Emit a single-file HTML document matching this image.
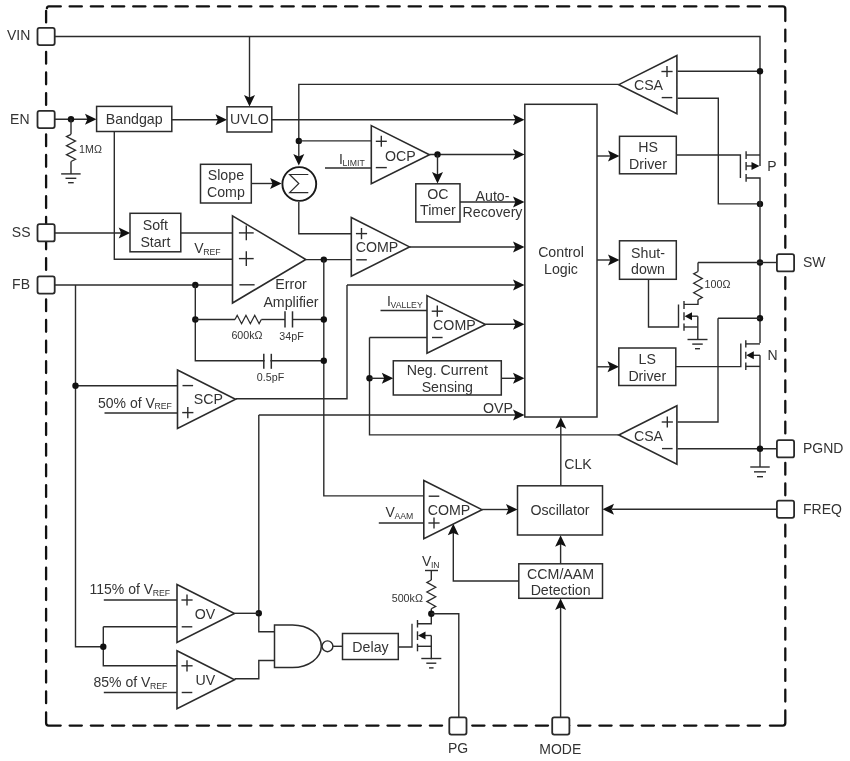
<!DOCTYPE html>
<html><head><meta charset="utf-8"><style>
html,body{margin:0;padding:0;background:#fff;width:850px;height:761px;overflow:hidden}
svg{display:block;will-change:transform}
text{font-family:"Liberation Sans", sans-serif}
</style></head><body>
<svg width="850" height="761" viewBox="0 0 850 761">
<rect width="850" height="761" fill="#fff"/>
<path d="M69.64 6.45H81.84M69.64 725.6H81.84M90.83 6.45H103.03M90.83 725.6H103.03M112.02 6.45H124.22M112.02 725.6H124.22M133.21 6.45H145.41M133.21 725.6H145.41M154.4 6.45H166.6M154.4 725.6H166.6M175.59 6.45H187.79M175.59 725.6H187.79M196.78 6.45H208.98M196.78 725.6H208.98M217.97 6.45H230.17M217.97 725.6H230.17M239.16 6.45H251.36M239.16 725.6H251.36M260.35 6.45H272.55M260.35 725.6H272.55M281.54 6.45H293.74M281.54 725.6H293.74M302.73 6.45H314.93M302.73 725.6H314.93M323.92 6.45H336.12M323.92 725.6H336.12M345.11 6.45H357.31M345.11 725.6H357.31M366.3 6.45H378.5M366.3 725.6H378.5M387.49 6.45H399.69M387.49 725.6H399.69M408.68 6.45H420.88M408.68 725.6H420.88M429.87 6.45H442.07M429.87 725.6H442.07M451.06 6.45H463.26M451.06 725.6H463.26M472.25 6.45H484.45M472.25 725.6H484.45M493.44 6.45H505.64M493.44 725.6H505.64M514.63 6.45H526.83M514.63 725.6H526.83M535.82 6.45H548.02M535.82 725.6H548.02M557.01 6.45H569.21M557.01 725.6H569.21M578.2 6.45H590.4M578.2 725.6H590.4M599.39 6.45H611.59M599.39 725.6H611.59M620.58 6.45H632.78M620.58 725.6H632.78M641.77 6.45H653.97M641.77 725.6H653.97M662.96 6.45H675.16M662.96 725.6H675.16M684.15 6.45H696.35M684.15 725.6H696.35M705.34 6.45H717.54M705.34 725.6H717.54M726.53 6.45H738.73M726.53 725.6H738.73M747.72 6.45H759.92M747.72 725.6H759.92M46.1 31.18V43.03M785.3 29.58V41.43M46.1 51.81V63.66M785.3 50.21V62.06M46.1 72.44V84.29M785.3 70.84V82.69M46.1 93.07V104.92M785.3 91.47V103.32M46.1 113.7V125.55M785.3 112.1V123.95M46.1 134.33V146.18M785.3 132.73V144.58M46.1 154.96V166.81M785.3 153.36V165.21M46.1 175.59V187.44M785.3 173.99V185.84M46.1 196.22V208.07M785.3 194.62V206.47M46.1 216.85V228.7M785.3 215.25V227.1M46.1 237.48V249.33M785.3 235.88V247.73M46.1 258.11V269.96M785.3 256.51V268.36M46.1 278.74V290.59M785.3 277.14V288.99M46.1 299.37V311.22M785.3 297.77V309.62M46.1 320V331.85M785.3 318.4V330.25M46.1 340.63V352.48M785.3 339.03V350.88M46.1 361.26V373.11M785.3 359.66V371.51M46.1 381.89V393.74M785.3 380.29V392.14M46.1 402.52V414.37M785.3 400.92V412.77M46.1 423.15V435M785.3 421.55V433.4M46.1 443.78V455.63M785.3 442.18V454.03M46.1 464.41V476.26M785.3 462.81V474.66M46.1 485.04V496.89M785.3 483.44V495.29M46.1 505.67V517.52M785.3 504.07V515.92M46.1 526.3V538.15M785.3 524.7V536.55M46.1 546.93V558.78M785.3 545.33V557.18M46.1 567.56V579.41M785.3 565.96V577.81M46.1 588.19V600.04M785.3 586.59V598.44M46.1 608.82V620.67M785.3 607.22V619.07M46.1 629.45V641.3M785.3 627.85V639.7M46.1 650.08V661.93M785.3 648.48V660.33M46.1 670.71V682.56M785.3 669.11V680.96M46.1 691.34V703.19M785.3 689.74V701.59M46.1 10.8V22.4M46.9 8.2Q47.2 6.45 48.8 6.45H60.8M769.2 6.45H782.8Q785.3 6.45 785.3 8.95V21M46.1 712.3V723.1Q46.1 725.6 48.6 725.6H60.7M769.9 725.6H782.8Q785.3 725.6 785.3 723.1V710.5" stroke="#111" stroke-width="2.3" fill="none" stroke-linecap="round"/>
<path d="M55 36.5 L760 36.5 L760 166" stroke="#2b2b2b" stroke-width="1.4" fill="none"/>
<path d="M249.5 36.5 L249.5 100" stroke="#2b2b2b" stroke-width="1.4" fill="none"/>
<polygon points="249.5,106.6 244,95.1 249.5,97.5 255,95.1" fill="#111"/>
<path d="M677.5 71.3 L760 71.3" stroke="#2b2b2b" stroke-width="1.4" fill="none"/>
<circle cx="760" cy="71.3" r="3.2" fill="#111"/>
<path d="M677.5 98.2 L718.3 98.2 L718.3 203.9 L760 203.9" stroke="#2b2b2b" stroke-width="1.4" fill="none"/>
<circle cx="760" cy="203.9" r="3.2" fill="#111"/>
<path d="M676.2 155 L740.4 155 L740.4 178" stroke="#2b2b2b" stroke-width="1.4" fill="none"/>
<path d="M746.1 151.3 L746.1 159" stroke="#2b2b2b" stroke-width="1.4" fill="none"/>
<path d="M746.1 162 L746.1 170.2" stroke="#2b2b2b" stroke-width="1.4" fill="none"/>
<path d="M746.1 174 L746.1 181.7" stroke="#2b2b2b" stroke-width="1.4" fill="none"/>
<path d="M746.1 155 L760 155" stroke="#2b2b2b" stroke-width="1.4" fill="none"/>
<path d="M746.1 166 L754 166" stroke="#2b2b2b" stroke-width="1.4" fill="none"/>
<polygon points="759.5,166 751.5,162 751.5,166 751.5,170" fill="#111"/>
<path d="M746.1 178 L760 178 L760 343" stroke="#2b2b2b" stroke-width="1.4" fill="none"/>
<text x="772" y="170.75" font-size="14" text-anchor="middle" fill="#333">P</text>
<circle cx="760" cy="262.5" r="3.2" fill="#111"/>
<path d="M760 262.5 L777 262.5" stroke="#2b2b2b" stroke-width="1.4" fill="none"/>
<path d="M698 262.5 L760 262.5" stroke="#2b2b2b" stroke-width="1.4" fill="none"/>
<path d="M698 262.5 L698 271.5" stroke="#2b2b2b" stroke-width="1.4" fill="none"/>
<path d="M698 271.5 L693.7 273.86 L702.3 278.57 L693.7 283.29 L702.3 288.01 L693.7 292.73 L702.3 297.44 L698 299.8" stroke="#2b2b2b" stroke-width="1.3" fill="none"/>
<path d="M698 299.8 L698 304.4 L684 304.4" stroke="#2b2b2b" stroke-width="1.4" fill="none"/>
<text x="717.5" y="288.1" font-size="10.7" text-anchor="middle" fill="#333">100Ω</text>
<path d="M648.5 279 L648.5 327 L678.5 327 L678.5 304.4" stroke="#2b2b2b" stroke-width="1.4" fill="none"/>
<path d="M684 301 L684 309" stroke="#2b2b2b" stroke-width="1.4" fill="none"/>
<path d="M684 312.3 L684 320.2" stroke="#2b2b2b" stroke-width="1.4" fill="none"/>
<path d="M684 323.4 L684 330.7" stroke="#2b2b2b" stroke-width="1.4" fill="none"/>
<path d="M697.8 316.2 L690 316.2" stroke="#2b2b2b" stroke-width="1.4" fill="none"/>
<polygon points="684.5,316.2 692,312.2 692,316.2 692,320.2" fill="#111"/>
<path d="M684 327 L697.8 327" stroke="#2b2b2b" stroke-width="1.4" fill="none"/>
<path d="M697.8 316.2 L697.8 339.5" stroke="#2b2b2b" stroke-width="1.4" fill="none"/>
<path d="M687.5 339.5 L707.5 339.5" stroke="#2b2b2b" stroke-width="1.4" fill="none"/>
<path d="M692.25 344.1 L702.75 344.1" stroke="#2b2b2b" stroke-width="1.4" fill="none"/>
<path d="M695 348.7 L700 348.7" stroke="#2b2b2b" stroke-width="1.4" fill="none"/>
<circle cx="760" cy="318.3" r="3.2" fill="#111"/>
<path d="M718 318.3 L760 318.3" stroke="#2b2b2b" stroke-width="1.4" fill="none"/>
<path d="M718 318.3 L718 422 L677.5 422" stroke="#2b2b2b" stroke-width="1.4" fill="none"/>
<path d="M675.8 366.6 L740.8 366.6 L740.8 343.4" stroke="#2b2b2b" stroke-width="1.4" fill="none"/>
<path d="M745.8 340.2 L745.8 347.6" stroke="#2b2b2b" stroke-width="1.4" fill="none"/>
<path d="M745.8 351.8 L745.8 358.7" stroke="#2b2b2b" stroke-width="1.4" fill="none"/>
<path d="M745.8 362.4 L745.8 369.9" stroke="#2b2b2b" stroke-width="1.4" fill="none"/>
<path d="M745.8 343.9 L760 343.9" stroke="#2b2b2b" stroke-width="1.4" fill="none"/>
<path d="M760 355.3 L752 355.3" stroke="#2b2b2b" stroke-width="1.4" fill="none"/>
<polygon points="746.3,355.3 753.8,351.3 753.8,355.3 753.8,359.3" fill="#111"/>
<path d="M745.8 366.4 L760 366.4" stroke="#2b2b2b" stroke-width="1.4" fill="none"/>
<path d="M760 355.3 L760 467" stroke="#2b2b2b" stroke-width="1.4" fill="none"/>
<text x="772.5" y="360.25" font-size="14" text-anchor="middle" fill="#333">N</text>
<path d="M677.5 448.8 L777 448.8" stroke="#2b2b2b" stroke-width="1.4" fill="none"/>
<circle cx="760" cy="448.8" r="3.2" fill="#111"/>
<path d="M750.25 467 L769.75 467" stroke="#2b2b2b" stroke-width="1.4" fill="none"/>
<path d="M754 471.85 L766 471.85" stroke="#2b2b2b" stroke-width="1.4" fill="none"/>
<path d="M757 476.7 L763 476.7" stroke="#2b2b2b" stroke-width="1.4" fill="none"/>
<path d="M777 509.3 L612 509.3" stroke="#2b2b2b" stroke-width="1.4" fill="none"/>
<polygon points="602.5,509.3 614,503.8 611.6,509.3 614,514.8" fill="#111"/>
<path d="M55 119.3 L90 119.3" stroke="#2b2b2b" stroke-width="1.4" fill="none"/>
<polygon points="96.5,119.3 85,113.8 87.4,119.3 85,124.8" fill="#111"/>
<circle cx="71" cy="119.2" r="3.2" fill="#111"/>
<path d="M71 119.2 L71 134.3" stroke="#2b2b2b" stroke-width="1.4" fill="none"/>
<path d="M71 134.3 L66.5 136.57 L75.5 141.1 L66.5 145.63 L75.5 150.17 L66.5 154.7 L75.5 159.23 L71 161.5" stroke="#2b2b2b" stroke-width="1.3" fill="none"/>
<path d="M71 161.5 L71 173.9" stroke="#2b2b2b" stroke-width="1.4" fill="none"/>
<path d="M61.15 173.9 L80.65 173.9" stroke="#2b2b2b" stroke-width="1.4" fill="none"/>
<path d="M65.5 178.3 L76.3 178.3" stroke="#2b2b2b" stroke-width="1.4" fill="none"/>
<path d="M68.1 182.7 L73.7 182.7" stroke="#2b2b2b" stroke-width="1.4" fill="none"/>
<text x="90.5" y="152.9" font-size="10.7" text-anchor="middle" fill="#333">1MΩ</text>
<rect x="96.6" y="106.4" width="75.2" height="25.1" fill="#fff" stroke="#2b2b2b" stroke-width="1.5"/>
<text x="134.2" y="124.05" font-size="14.2" text-anchor="middle" fill="#333">Bandgap</text>
<path d="M171.8 119.8 L220 119.8" stroke="#2b2b2b" stroke-width="1.4" fill="none"/>
<polygon points="227,119.8 215.5,114.3 217.9,119.8 215.5,125.3" fill="#111"/>
<path d="M114.3 131.5 L114.3 259.3 L232.5 259.3" stroke="#2b2b2b" stroke-width="1.4" fill="none"/>
<rect x="227" y="106.8" width="44.8" height="25.2" fill="#fff" stroke="#2b2b2b" stroke-width="1.5"/>
<text x="249.4" y="124.25" font-size="14.2" text-anchor="middle" fill="#333">UVLO</text>
<path d="M271.8 119.8 L518 119.8" stroke="#2b2b2b" stroke-width="1.4" fill="none"/>
<polygon points="524.5,119.8 513,114.3 515.4,119.8 513,125.3" fill="#111"/>
<path d="M618.8 84.4 L298.8 84.4 L298.8 158" stroke="#2b2b2b" stroke-width="1.4" fill="none"/>
<polygon points="298.8,165.5 293.3,154 298.8,156.4 304.3,154" fill="#111"/>
<circle cx="298.8" cy="140.9" r="3.2" fill="#111"/>
<path d="M298.8 140.9 L371.3 140.9" stroke="#2b2b2b" stroke-width="1.4" fill="none"/>
<path d="M325 168 L371.3 168" stroke="#2b2b2b" stroke-width="1.4" fill="none"/>
<text x="339" y="164.2" font-size="14" text-anchor="start" fill="#333">I<tspan font-size="8.7" dy="1.6" dx="-0.4">LIMIT</tspan></text>
<polygon points="371.3,125.6 429.5,154.7 371.3,183.8" fill="#fff" stroke="#2b2b2b" stroke-width="1.6" stroke-linejoin="miter"/>
<path d="M375.8 141.3 L386.8 141.3" stroke="#2b2b2b" stroke-width="1.4" fill="none"/>
<path d="M381.3 135.8 L381.3 146.8" stroke="#2b2b2b" stroke-width="1.4" fill="none"/>
<path d="M375.8 167.6 L386.8 167.6" stroke="#2b2b2b" stroke-width="1.4" fill="none"/>
<text x="400.3" y="160.75" font-size="14.2" text-anchor="middle" fill="#333">OCP</text>
<path d="M429.5 154.5 L518 154.5" stroke="#2b2b2b" stroke-width="1.4" fill="none"/>
<polygon points="524.5,154.5 513,149 515.4,154.5 513,160" fill="#111"/>
<circle cx="437.5" cy="154.5" r="3.2" fill="#111"/>
<path d="M437.5 154.5 L437.5 177" stroke="#2b2b2b" stroke-width="1.4" fill="none"/>
<polygon points="437.5,183.6 432,172.1 437.5,174.5 443,172.1" fill="#111"/>
<rect x="415.8" y="183.8" width="44.2" height="38.2" fill="#fff" stroke="#2b2b2b" stroke-width="1.5"/>
<text x="437.9" y="199.05" font-size="14.2" text-anchor="middle" fill="#333">OC</text>
<text x="437.9" y="215.25" font-size="14.2" text-anchor="middle" fill="#333">Timer</text>
<path d="M460 202 L518 202" stroke="#2b2b2b" stroke-width="1.4" fill="none"/>
<polygon points="524.5,202 513,196.5 515.4,202 513,207.5" fill="#111"/>
<text x="492.5" y="201.05" font-size="14.2" text-anchor="middle" fill="#333">Auto-</text>
<text x="492.5" y="217.25" font-size="14.2" text-anchor="middle" fill="#333">Recovery</text>
<rect x="200.5" y="164.3" width="50.8" height="38.7" fill="#fff" stroke="#2b2b2b" stroke-width="1.5"/>
<text x="225.9" y="180.25" font-size="14.2" text-anchor="middle" fill="#333">Slope</text>
<text x="225.9" y="196.75" font-size="14.2" text-anchor="middle" fill="#333">Comp</text>
<path d="M251.3 183.5 L275 183.5" stroke="#2b2b2b" stroke-width="1.4" fill="none"/>
<polygon points="281.6,183.5 270.1,178 272.5,183.5 270.1,189" fill="#111"/>
<circle cx="299.3" cy="184" r="16.9" fill="#fff" stroke="#1a1a1a" stroke-width="1.9"/>
<path d="M308.3 174.5 L289.6 174.5 L298.8 183.5 L289.6 192.7 L308.3 192.7" stroke="#2b2b2b" stroke-width="1.2" fill="none"/>
<path d="M298.8 201.9 L298.8 233.8 L351.3 233.8" stroke="#2b2b2b" stroke-width="1.4" fill="none"/>
<path d="M55 233 L124 233" stroke="#2b2b2b" stroke-width="1.4" fill="none"/>
<polygon points="130.2,233 118.7,227.5 121.1,233 118.7,238.5" fill="#111"/>
<rect x="130" y="213.3" width="50.8" height="38.5" fill="#fff" stroke="#2b2b2b" stroke-width="1.5"/>
<text x="155.4" y="230.45" font-size="14.2" text-anchor="middle" fill="#333">Soft</text>
<text x="155.4" y="246.75" font-size="14.2" text-anchor="middle" fill="#333">Start</text>
<path d="M180.8 233 L232.5 233" stroke="#2b2b2b" stroke-width="1.4" fill="none"/>
<text x="194.3" y="253" font-size="14" text-anchor="start" fill="#333">V<tspan font-size="8.7" dy="1.6" dx="-0.4">REF</tspan></text>
<polygon points="232.5,215.9 305.8,259.45 232.5,303" fill="#fff" stroke="#2b2b2b" stroke-width="1.6" stroke-linejoin="miter"/>
<path d="M238.9 232.9 L253.7 232.9" stroke="#2b2b2b" stroke-width="1.4" fill="none"/>
<path d="M246.3 225.5 L246.3 240.3" stroke="#2b2b2b" stroke-width="1.4" fill="none"/>
<path d="M238.9 258.6 L253.7 258.6" stroke="#2b2b2b" stroke-width="1.4" fill="none"/>
<path d="M246.3 251.2 L246.3 266" stroke="#2b2b2b" stroke-width="1.4" fill="none"/>
<path d="M239.4 284.8 L254.6 284.8" stroke="#2b2b2b" stroke-width="1.4" fill="none"/>
<text x="291" y="289.35" font-size="14.2" text-anchor="middle" fill="#333">Error</text>
<text x="291" y="306.55" font-size="14.2" text-anchor="middle" fill="#333">Amplifier</text>
<path d="M305.8 259.6 L351.3 259.6" stroke="#2b2b2b" stroke-width="1.4" fill="none"/>
<circle cx="323.8" cy="259.6" r="3.2" fill="#111"/>
<path d="M323.8 259.6 L323.8 495.9 L423.8 495.9" stroke="#2b2b2b" stroke-width="1.4" fill="none"/>
<path d="M55 285 L232.5 285" stroke="#2b2b2b" stroke-width="1.4" fill="none"/>
<circle cx="195.3" cy="285" r="3.2" fill="#111"/>
<path d="M195.3 285 L195.3 360.8 L323.8 360.8" stroke="#2b2b2b" stroke-width="1.4" fill="none"/>
<circle cx="323.8" cy="360.8" r="3.2" fill="#111"/>
<circle cx="195.3" cy="319.5" r="3.2" fill="#111"/>
<path d="M195.3 319.5 L235 319.5" stroke="#2b2b2b" stroke-width="1.4" fill="none"/>
<path d="M235 319.5 L237.19 315.3 L241.57 323.7 L245.96 315.3 L250.34 323.7 L254.73 315.3 L259.11 323.7 L261.3 319.5" stroke="#2b2b2b" stroke-width="1.3" fill="none"/>
<path d="M261.3 319.5 L285 319.5" stroke="#2b2b2b" stroke-width="1.4" fill="none"/>
<path d="M292.5 319.5 L323.8 319.5" stroke="#2b2b2b" stroke-width="1.4" fill="none"/>
<path d="M285 311.3 L285 327.5" stroke="#2b2b2b" stroke-width="1.5" fill="none"/>
<path d="M292.5 311.3 L292.5 327.5" stroke="#2b2b2b" stroke-width="1.5" fill="none"/>
<circle cx="323.8" cy="319.5" r="3.2" fill="#111"/>
<text x="247" y="339.4" font-size="10.7" text-anchor="middle" fill="#333">600kΩ</text>
<text x="291.5" y="339.7" font-size="10.7" text-anchor="middle" fill="#333">34pF</text>
<rect x="264.6" y="355" width="5.8" height="12" fill="#fff"/>
<path d="M263.8 353.8 L263.8 368.8" stroke="#2b2b2b" stroke-width="1.5" fill="none"/>
<path d="M271.3 353.8 L271.3 368.8" stroke="#2b2b2b" stroke-width="1.5" fill="none"/>
<text x="270.5" y="380.9" font-size="10.7" text-anchor="middle" fill="#333">0.5pF</text>
<path d="M75.5 285 L75.5 646.8 L103.3 646.8" stroke="#2b2b2b" stroke-width="1.4" fill="none"/>
<polygon points="351.3,217.5 409.5,246.9 351.3,276.3" fill="#fff" stroke="#2b2b2b" stroke-width="1.6" stroke-linejoin="miter"/>
<path d="M355.9 233.6 L367.1 233.6" stroke="#2b2b2b" stroke-width="1.4" fill="none"/>
<path d="M361.5 228 L361.5 239.2" stroke="#2b2b2b" stroke-width="1.4" fill="none"/>
<path d="M356.2 259.8 L366.8 259.8" stroke="#2b2b2b" stroke-width="1.4" fill="none"/>
<text x="377" y="252.25" font-size="14.2" text-anchor="middle" fill="#333">COMP</text>
<path d="M409.5 247 L518 247" stroke="#2b2b2b" stroke-width="1.4" fill="none"/>
<polygon points="524.5,247 513,241.5 515.4,247 513,252.5" fill="#111"/>
<path d="M347 285 L518 285" stroke="#2b2b2b" stroke-width="1.4" fill="none"/>
<polygon points="524.5,285 513,279.5 515.4,285 513,290.5" fill="#111"/>
<path d="M347 285 L347 398.8 L235.5 398.8" stroke="#2b2b2b" stroke-width="1.4" fill="none"/>
<polygon points="427,295.6 485.5,324.45 427,353.3" fill="#fff" stroke="#2b2b2b" stroke-width="1.6" stroke-linejoin="miter"/>
<path d="M431.7 311.2 L442.9 311.2" stroke="#2b2b2b" stroke-width="1.4" fill="none"/>
<path d="M437.3 305.6 L437.3 316.8" stroke="#2b2b2b" stroke-width="1.4" fill="none"/>
<path d="M432 337.5 L442.6 337.5" stroke="#2b2b2b" stroke-width="1.4" fill="none"/>
<text x="454.4" y="330.25" font-size="14.2" text-anchor="middle" fill="#333">COMP</text>
<path d="M380.5 310.5 L427 310.5" stroke="#2b2b2b" stroke-width="1.4" fill="none"/>
<text x="387" y="306.2" font-size="14" text-anchor="start" fill="#333">I<tspan font-size="8.7" dy="1.6" dx="-0.4">VALLEY</tspan></text>
<path d="M485.5 324.3 L518 324.3" stroke="#2b2b2b" stroke-width="1.4" fill="none"/>
<polygon points="524.5,324.3 513,318.8 515.4,324.3 513,329.8" fill="#111"/>
<path d="M369.5 337.5 L427 337.5" stroke="#2b2b2b" stroke-width="1.4" fill="none"/>
<path d="M369.5 337.5 L369.5 434.9 L618.8 434.9" stroke="#2b2b2b" stroke-width="1.4" fill="none"/>
<circle cx="369.5" cy="378.3" r="3.2" fill="#111"/>
<path d="M369.5 378.3 L387 378.3" stroke="#2b2b2b" stroke-width="1.4" fill="none"/>
<polygon points="393.3,378.3 381.8,372.8 384.2,378.3 381.8,383.8" fill="#111"/>
<rect x="393.3" y="360.8" width="108" height="34.2" fill="#fff" stroke="#2b2b2b" stroke-width="1.5"/>
<text x="447.3" y="374.75" font-size="14.2" text-anchor="middle" fill="#333">Neg. Current</text>
<text x="447.3" y="391.75" font-size="14.2" text-anchor="middle" fill="#333">Sensing</text>
<path d="M501.3 378.3 L518 378.3" stroke="#2b2b2b" stroke-width="1.4" fill="none"/>
<polygon points="524.5,378.3 513,372.8 515.4,378.3 513,383.8" fill="#111"/>
<path d="M258.8 415 L518 415" stroke="#2b2b2b" stroke-width="1.4" fill="none"/>
<polygon points="524.5,415 513,409.5 515.4,415 513,420.5" fill="#111"/>
<text x="498" y="413.05" font-size="14.2" text-anchor="middle" fill="#333">OVP</text>
<path d="M258.8 415 L258.8 631.8 L274.5 631.8" stroke="#2b2b2b" stroke-width="1.4" fill="none"/>
<circle cx="258.8" cy="613.3" r="3.2" fill="#111"/>
<rect x="524.8" y="104.3" width="72.2" height="312.7" fill="#fff" stroke="#2b2b2b" stroke-width="1.5"/>
<text x="561" y="256.75" font-size="14.2" text-anchor="middle" fill="#333">Control</text>
<text x="561" y="273.55" font-size="14.2" text-anchor="middle" fill="#333">Logic</text>
<path d="M597 156 L613 156" stroke="#2b2b2b" stroke-width="1.4" fill="none"/>
<polygon points="619.5,156 608,150.5 610.4,156 608,161.5" fill="#111"/>
<path d="M597 260 L613 260" stroke="#2b2b2b" stroke-width="1.4" fill="none"/>
<polygon points="619.5,260 608,254.5 610.4,260 608,265.5" fill="#111"/>
<path d="M597 366.8 L612.5 366.8" stroke="#2b2b2b" stroke-width="1.4" fill="none"/>
<polygon points="619,366.8 607.5,361.3 609.9,366.8 607.5,372.3" fill="#111"/>
<rect x="619.5" y="136.3" width="56.8" height="37.5" fill="#fff" stroke="#2b2b2b" stroke-width="1.5"/>
<text x="648" y="152.25" font-size="14.2" text-anchor="middle" fill="#333">HS</text>
<text x="648" y="168.55" font-size="14.2" text-anchor="middle" fill="#333">Driver</text>
<rect x="619.5" y="240.8" width="56.8" height="38.5" fill="#fff" stroke="#2b2b2b" stroke-width="1.5"/>
<text x="648" y="258.05" font-size="14.2" text-anchor="middle" fill="#333">Shut-</text>
<text x="648" y="273.55" font-size="14.2" text-anchor="middle" fill="#333">down</text>
<rect x="618.8" y="348" width="57" height="37.5" fill="#fff" stroke="#2b2b2b" stroke-width="1.5"/>
<text x="647.3" y="364.25" font-size="14.2" text-anchor="middle" fill="#333">LS</text>
<text x="647.3" y="381.05" font-size="14.2" text-anchor="middle" fill="#333">Driver</text>
<polygon points="676.9,55.5 618.8,84.65 676.9,113.8" fill="#fff" stroke="#2b2b2b" stroke-width="1.6" stroke-linejoin="miter"/>
<path d="M661.4 71.5 L672.6 71.5" stroke="#2b2b2b" stroke-width="1.4" fill="none"/>
<path d="M667 65.9 L667 77.1" stroke="#2b2b2b" stroke-width="1.4" fill="none"/>
<path d="M661.7 97.6 L672.3 97.6" stroke="#2b2b2b" stroke-width="1.4" fill="none"/>
<text x="648.5" y="89.75" font-size="14.2" text-anchor="middle" fill="#333">CSA</text>
<polygon points="676.9,405.8 618.8,435.05 676.9,464.3" fill="#fff" stroke="#2b2b2b" stroke-width="1.6" stroke-linejoin="miter"/>
<path d="M661.7 422 L672.9 422" stroke="#2b2b2b" stroke-width="1.4" fill="none"/>
<path d="M667.3 416.4 L667.3 427.6" stroke="#2b2b2b" stroke-width="1.4" fill="none"/>
<path d="M662 448.6 L672.6 448.6" stroke="#2b2b2b" stroke-width="1.4" fill="none"/>
<text x="648.5" y="440.55" font-size="14.2" text-anchor="middle" fill="#333">CSA</text>
<path d="M560.8 485.8 L560.8 423" stroke="#2b2b2b" stroke-width="1.4" fill="none"/>
<polygon points="560.8,417.2 555.3,428.7 560.8,426.3 566.3,428.7" fill="#111"/>
<text x="578" y="468.95" font-size="14.2" text-anchor="middle" fill="#333">CLK</text>
<rect x="517.5" y="485.8" width="85" height="49.2" fill="#fff" stroke="#2b2b2b" stroke-width="1.5"/>
<text x="560" y="515.25" font-size="14.2" text-anchor="middle" fill="#333">Oscillator</text>
<rect x="518.8" y="563.8" width="83.7" height="34.5" fill="#fff" stroke="#2b2b2b" stroke-width="1.5"/>
<text x="560.6" y="579.05" font-size="14.2" text-anchor="middle" fill="#333">CCM/AAM</text>
<text x="560.6" y="595.25" font-size="14.2" text-anchor="middle" fill="#333">Detection</text>
<path d="M560.6 563.8 L560.6 541" stroke="#2b2b2b" stroke-width="1.4" fill="none"/>
<polygon points="560.6,535.2 555.1,546.7 560.6,544.3 566.1,546.7" fill="#111"/>
<path d="M560.6 717 L560.6 604" stroke="#2b2b2b" stroke-width="1.4" fill="none"/>
<polygon points="560.6,598.5 555.1,610 560.6,607.6 566.1,610" fill="#111"/>
<path d="M518.8 581 L453.3 581 L453.3 530" stroke="#2b2b2b" stroke-width="1.4" fill="none"/>
<polygon points="453.3,523.8 447.8,535.3 453.3,532.9 458.8,535.3" fill="#111"/>
<polygon points="423.8,480.5 482,509.65 423.8,538.8" fill="#fff" stroke="#2b2b2b" stroke-width="1.6" stroke-linejoin="miter"/>
<path d="M428.7 496.2 L439.3 496.2" stroke="#2b2b2b" stroke-width="1.4" fill="none"/>
<path d="M428.4 523 L439.6 523" stroke="#2b2b2b" stroke-width="1.4" fill="none"/>
<path d="M434 517.4 L434 528.6" stroke="#2b2b2b" stroke-width="1.4" fill="none"/>
<text x="449" y="514.75" font-size="14.2" text-anchor="middle" fill="#333">COMP</text>
<path d="M378.8 523 L423.8 523" stroke="#2b2b2b" stroke-width="1.4" fill="none"/>
<text x="385.5" y="517.2" font-size="14" text-anchor="start" fill="#333">V<tspan font-size="8.7" dy="1.6" dx="-0.4">AAM</tspan></text>
<path d="M482 509.5 L511 509.5" stroke="#2b2b2b" stroke-width="1.4" fill="none"/>
<polygon points="517.5,509.5 506,504 508.4,509.5 506,515" fill="#111"/>
<path d="M75.5 385.8 L177.5 385.8" stroke="#2b2b2b" stroke-width="1.4" fill="none"/>
<circle cx="75.5" cy="385.8" r="3.2" fill="#111"/>
<polygon points="177.5,370 235.5,399.25 177.5,428.5" fill="#fff" stroke="#2b2b2b" stroke-width="1.6" stroke-linejoin="miter"/>
<path d="M182.5 385.6 L193.1 385.6" stroke="#2b2b2b" stroke-width="1.4" fill="none"/>
<path d="M182.2 412.6 L193.4 412.6" stroke="#2b2b2b" stroke-width="1.4" fill="none"/>
<path d="M187.8 407 L187.8 418.2" stroke="#2b2b2b" stroke-width="1.4" fill="none"/>
<text x="208.3" y="404.25" font-size="14.2" text-anchor="middle" fill="#333">SCP</text>
<path d="M104.5 413 L177.5 413" stroke="#2b2b2b" stroke-width="1.4" fill="none"/>
<text x="98" y="407.7" font-size="14" text-anchor="start" fill="#333">50% of V<tspan font-size="8.7" dy="1.6" dx="-0.4">REF</tspan></text>
<polygon points="177,584.5 234.5,613.5 177,642.5" fill="#fff" stroke="#2b2b2b" stroke-width="1.6" stroke-linejoin="miter"/>
<path d="M181.4 600 L192.6 600" stroke="#2b2b2b" stroke-width="1.4" fill="none"/>
<path d="M187 594.4 L187 605.6" stroke="#2b2b2b" stroke-width="1.4" fill="none"/>
<path d="M181.7 626.8 L192.3 626.8" stroke="#2b2b2b" stroke-width="1.4" fill="none"/>
<text x="205" y="619.05" font-size="14.2" text-anchor="middle" fill="#333">OV</text>
<path d="M103.8 600 L177 600" stroke="#2b2b2b" stroke-width="1.4" fill="none"/>
<text x="89.5" y="594.2" font-size="14" text-anchor="start" fill="#333">115% of V<tspan font-size="8.7" dy="1.6" dx="-0.4">REF</tspan></text>
<path d="M103.3 626.8 L177 626.8" stroke="#2b2b2b" stroke-width="1.4" fill="none"/>
<path d="M103.3 626.8 L103.3 665.8 L177 665.8" stroke="#2b2b2b" stroke-width="1.4" fill="none"/>
<circle cx="103.3" cy="646.8" r="3.2" fill="#111"/>
<polygon points="177,650.8 234.5,679.8 177,708.8" fill="#fff" stroke="#2b2b2b" stroke-width="1.6" stroke-linejoin="miter"/>
<path d="M181.4 665.8 L192.6 665.8" stroke="#2b2b2b" stroke-width="1.4" fill="none"/>
<path d="M187 660.2 L187 671.4" stroke="#2b2b2b" stroke-width="1.4" fill="none"/>
<path d="M181.7 692.5 L192.3 692.5" stroke="#2b2b2b" stroke-width="1.4" fill="none"/>
<text x="205.3" y="684.75" font-size="14.2" text-anchor="middle" fill="#333">UV</text>
<path d="M103.8 692.5 L177 692.5" stroke="#2b2b2b" stroke-width="1.4" fill="none"/>
<text x="93.5" y="687.2" font-size="14" text-anchor="start" fill="#333">85% of V<tspan font-size="8.7" dy="1.6" dx="-0.4">REF</tspan></text>
<path d="M234.5 613.3 L258.8 613.3" stroke="#2b2b2b" stroke-width="1.4" fill="none"/>
<path d="M234.5 678.8 L258.8 678.8 L258.8 660.5 L274.5 660.5" stroke="#2b2b2b" stroke-width="1.4" fill="none"/>
<path d="M274.5 625 H292.5 A28.8 21.25 0 0 1 292.5 667.5 H274.5 Z" fill="#fff" stroke="#2b2b2b" stroke-width="1.5"/>
<circle cx="327.5" cy="646.3" r="5.4" fill="#fff" stroke="#2b2b2b" stroke-width="1.4"/>
<path d="M332.9 646.3 L342.5 646.3" stroke="#2b2b2b" stroke-width="1.4" fill="none"/>
<rect x="342.5" y="633.5" width="55.8" height="26" fill="#fff" stroke="#2b2b2b" stroke-width="1.5"/>
<text x="370.5" y="652.25" font-size="14.2" text-anchor="middle" fill="#333">Delay</text>
<path d="M398.3 647 L412 647 L412 623.8" stroke="#2b2b2b" stroke-width="1.3" fill="none"/>
<path d="M417.5 620 L417.5 627.5" stroke="#2b2b2b" stroke-width="1.4" fill="none"/>
<path d="M417.5 631.3 L417.5 640" stroke="#2b2b2b" stroke-width="1.4" fill="none"/>
<path d="M417.5 643.8 L417.5 651.3" stroke="#2b2b2b" stroke-width="1.4" fill="none"/>
<path d="M417.5 623.8 L431.3 623.8 L431.3 613.5" stroke="#2b2b2b" stroke-width="1.4" fill="none"/>
<path d="M431.3 635.5 L423.5 635.5" stroke="#2b2b2b" stroke-width="1.4" fill="none"/>
<polygon points="418,635.5 425.5,631.5 425.5,635.5 425.5,639.5" fill="#111"/>
<path d="M417.5 646.3 L431.3 646.3" stroke="#2b2b2b" stroke-width="1.4" fill="none"/>
<path d="M431.3 635.5 L431.3 659.3" stroke="#2b2b2b" stroke-width="1.4" fill="none"/>
<path d="M421.3 658.5 L441.3 658.5" stroke="#2b2b2b" stroke-width="1.4" fill="none"/>
<path d="M426.3 663.2 L436.3 663.2" stroke="#2b2b2b" stroke-width="1.4" fill="none"/>
<path d="M429.05 667.9 L433.55 667.9" stroke="#2b2b2b" stroke-width="1.4" fill="none"/>
<path d="M425 570.5 L438 570.5" stroke="#2b2b2b" stroke-width="1.4" fill="none"/>
<path d="M431.3 570.5 L431.3 580" stroke="#2b2b2b" stroke-width="1.4" fill="none"/>
<path d="M431.3 580 L426.9 582.4 L435.7 587.2 L426.9 592 L435.7 596.8 L426.9 601.6 L435.7 606.4 L431.3 608.8" stroke="#2b2b2b" stroke-width="1.3" fill="none"/>
<path d="M431.3 608.8 L431.3 613.8" stroke="#2b2b2b" stroke-width="1.4" fill="none"/>
<circle cx="431.3" cy="613.8" r="3.2" fill="#111"/>
<path d="M431.3 613.8 L458.8 613.8 L458.8 717" stroke="#2b2b2b" stroke-width="1.4" fill="none"/>
<text x="422" y="566" font-size="14" text-anchor="start" fill="#333">V<tspan font-size="8.7" dy="1.6" dx="-0.4">IN</tspan></text>
<text x="407.3" y="602.2" font-size="10.7" text-anchor="middle" fill="#333">500kΩ</text>
<rect x="37.5" y="27.9" width="17.2" height="17.2" rx="2" fill="#fff" stroke="#2a2a2a" stroke-width="1.8"/>
<rect x="37.5" y="110.9" width="17.2" height="17.2" rx="2" fill="#fff" stroke="#2a2a2a" stroke-width="1.8"/>
<rect x="37.5" y="224.2" width="17.2" height="17.2" rx="2" fill="#fff" stroke="#2a2a2a" stroke-width="1.8"/>
<rect x="37.5" y="276.4" width="17.2" height="17.2" rx="2" fill="#fff" stroke="#2a2a2a" stroke-width="1.8"/>
<rect x="776.9" y="254.2" width="17.2" height="17.2" rx="2" fill="#fff" stroke="#2a2a2a" stroke-width="1.8"/>
<rect x="776.9" y="440.2" width="17.2" height="17.2" rx="2" fill="#fff" stroke="#2a2a2a" stroke-width="1.8"/>
<rect x="776.9" y="500.6" width="17.2" height="17.2" rx="2" fill="#fff" stroke="#2a2a2a" stroke-width="1.8"/>
<rect x="449.3" y="717.4" width="17.2" height="17.2" rx="2" fill="#fff" stroke="#2a2a2a" stroke-width="1.8"/>
<rect x="552.2" y="717.4" width="17.2" height="17.2" rx="2" fill="#fff" stroke="#2a2a2a" stroke-width="1.8"/>
<text x="30.3" y="39.75" font-size="14" text-anchor="end" fill="#333">VIN</text>
<text x="29.5" y="123.75" font-size="14" text-anchor="end" fill="#333">EN</text>
<text x="30.5" y="237.25" font-size="14" text-anchor="end" fill="#333">SS</text>
<text x="30" y="289.25" font-size="14" text-anchor="end" fill="#333">FB</text>
<text x="803" y="266.75" font-size="14" text-anchor="start" fill="#333">SW</text>
<text x="803" y="453.25" font-size="14" text-anchor="start" fill="#333">PGND</text>
<text x="803" y="514.25" font-size="14" text-anchor="start" fill="#333">FREQ</text>
<text x="458" y="752.75" font-size="14" text-anchor="middle" fill="#333">PG</text>
<text x="560.3" y="753.55" font-size="14" text-anchor="middle" fill="#333">MODE</text>
</svg></body></html>
